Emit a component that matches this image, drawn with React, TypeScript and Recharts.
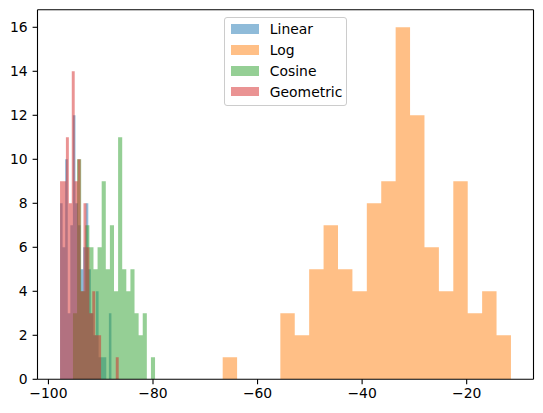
import React from 'react';
import { ComposedChart, Area, XAxis, YAxis, CartesianGrid } from 'recharts';

// ---- data ----
const SERIES_KEYS = ['linear', 'log', 'cosine', 'geometric'];
const SERIES_NAMES = ['Linear', 'Log', 'Cosine', 'Geometric'];
const SERIES_COLORS = ['#1f77b4', '#ff7f0e', '#2ca02c', '#d62728'];

// each histogram: [min, max] of the data and 20 bin counts
const LINEAR_RANGE = [-97.78, -87.95];
const LINEAR_COUNTS = [8, 6, 10, 3, 7, 12, 8, 7, 5, 6, 8, 5, 3, 2, 4, 1, 1, 1, 0, 3];

const LOG_RANGE = [-66.67, -11.53];
const LOG_COUNTS = [1, 0, 0, 0, 3, 2, 5, 7, 5, 4, 8, 9, 16, 12, 6, 4, 9, 3, 4, 2];

const COSINE_RANGE = [-95.31, -79.61];
const COSINE_COUNTS = [3, 10, 4, 7, 6, 5, 6, 9, 5, 7, 4, 11, 5, 4, 5, 3, 2, 3, 0, 1];

const GEOMETRIC_RANGE = [-97.78, -86.56];
const GEOMETRIC_COUNTS = [9, 9, 11, 8, 14, 9, 10, 4, 8, 6, 3, 4, 2, 2, 0, 0, 0, 0, 0, 1];

const X_TICKS = [-100, -80, -60, -40, -20];
const Y_TICKS = [0, 2, 4, 6, 8, 10, 12, 14, 16];
const Y_MAX = 16.8;

// ---- build the step table the library needs ----
const HISTS = [
  { key: 'linear', range: LINEAR_RANGE, counts: LINEAR_COUNTS },
  { key: 'log', range: LOG_RANGE, counts: LOG_COUNTS },
  { key: 'cosine', range: COSINE_RANGE, counts: COSINE_COUNTS },
  { key: 'geometric', range: GEOMETRIC_RANGE, counts: GEOMETRIC_COUNTS },
].map((h) => {
  const n = h.counts.length;
  const edges = Array.from({ length: n + 1 }, (_, i) => h.range[0] + ((h.range[1] - h.range[0]) * i) / n);
  return { ...h, edges };
});

const allX = Array.from(new Set(HISTS.flatMap((h) => h.edges))).sort((a, b) => a - b);

const DATA = allX.map((x) => {
  const row: Record<string, number> = { x };
  HISTS.forEach((h) => {
    let v = 0;
    for (let i = 0; i < h.counts.length; i++) {
      if (x >= h.edges[i] - 1e-9 && x < h.edges[i + 1] - 1e-9) {
        v = h.counts[i];
        break;
      }
    }
    row[h.key] = v;
  });
  return row;
});

const dataMin = Math.min(...HISTS.map((h) => h.range[0]));
const dataMax = Math.max(...HISTS.map((h) => h.range[1]));
const pad = (dataMax - dataMin) * 0.05;
const X_DOMAIN: [number, number] = [dataMin - pad, dataMax + pad];

const FONT = 'DejaVu Sans, sans-serif';
const FS = 13.9;
const fmt = (v: number) => String(v).replace('-', '\u2212');

const W = 543;
const H = 413;
const PLOT_LEFT = 37.5;
const PLOT_RIGHT = 533.5;
const PLOT_TOP = 9.7;
const PLOT_BOTTOM = 379.3;

function LegendBox() {
  const left = 224.3;
  const top = 17.3;
  return (
    <div
      style={{
        position: 'absolute',
        left,
        top,
        width: 123,
        height: 88.4,
        boxSizing: 'border-box',
        border: '1px solid #cccccc',
        borderRadius: 3,
        background: 'rgba(255,255,255,0.8)',
        fontFamily: FONT,
        fontSize: FS,
        color: '#000',
      }}
    >
      {SERIES_NAMES.map((name, i) => {
        const cy = 10.7 + i * 20.9;
        return (
          <React.Fragment key={name}>
            <div
              style={{
                position: 'absolute',
                left: 5.7,
                top: cy - 4.9,
                width: 27.8,
                height: 9.7,
                background: SERIES_COLORS[i],
                opacity: 0.5,
              }}
            />
            <div
              style={{
                position: 'absolute',
                left: 44.5,
                top: cy - 9,
                height: 18,
                lineHeight: '18px',
                whiteSpace: 'nowrap',
              }}
            >
              {name}
            </div>
          </React.Fragment>
        );
      })}
    </div>
  );
}

export default function App() {
  const tickStyle = { fill: '#000', fontSize: FS, fontFamily: FONT };
  return (
    <div style={{ position: 'absolute', left: 0, top: 0, width: W, height: H, background: '#fff' }}>
      <ComposedChart
        width={W}
        height={H}
        data={DATA}
        margin={{ top: PLOT_TOP, right: W - PLOT_RIGHT, bottom: 0, left: 0 }}
      >
        <CartesianGrid
          stroke="#000"
          strokeWidth={1.1}
          horizontalCoordinatesGenerator={({ offset }: any) => [offset.top]}
          verticalCoordinatesGenerator={({ offset }: any) => [offset.left + offset.width]}
        />
        <XAxis
          dataKey="x"
          type="number"
          domain={X_DOMAIN}
          allowDataOverflow
          ticks={X_TICKS}
          interval={0}
          tickFormatter={fmt}
          height={H - PLOT_BOTTOM}
          stroke="#000"
          strokeWidth={1.1}
          tickSize={4.9}
          tickMargin={4.2}
          tick={tickStyle}
        />
        <YAxis
          type="number"
          domain={[0, Y_MAX]}
          allowDataOverflow
          ticks={Y_TICKS}
          interval={0}
          width={PLOT_LEFT}
          stroke="#000"
          strokeWidth={1.1}
          tickSize={4.9}
          tickMargin={4.9}
          tick={tickStyle}
        />
        {SERIES_KEYS.map((k, i) => (
          <Area
            key={k}
            type="stepAfter"
            dataKey={k}
            name={SERIES_NAMES[i]}
            stroke="none"
            fill={SERIES_COLORS[i]}
            fillOpacity={0.5}
            dot={false}
            activeDot={false}
            isAnimationActive={false}
          />
        ))}
      </ComposedChart>
      <LegendBox />
    </div>
  );
}
